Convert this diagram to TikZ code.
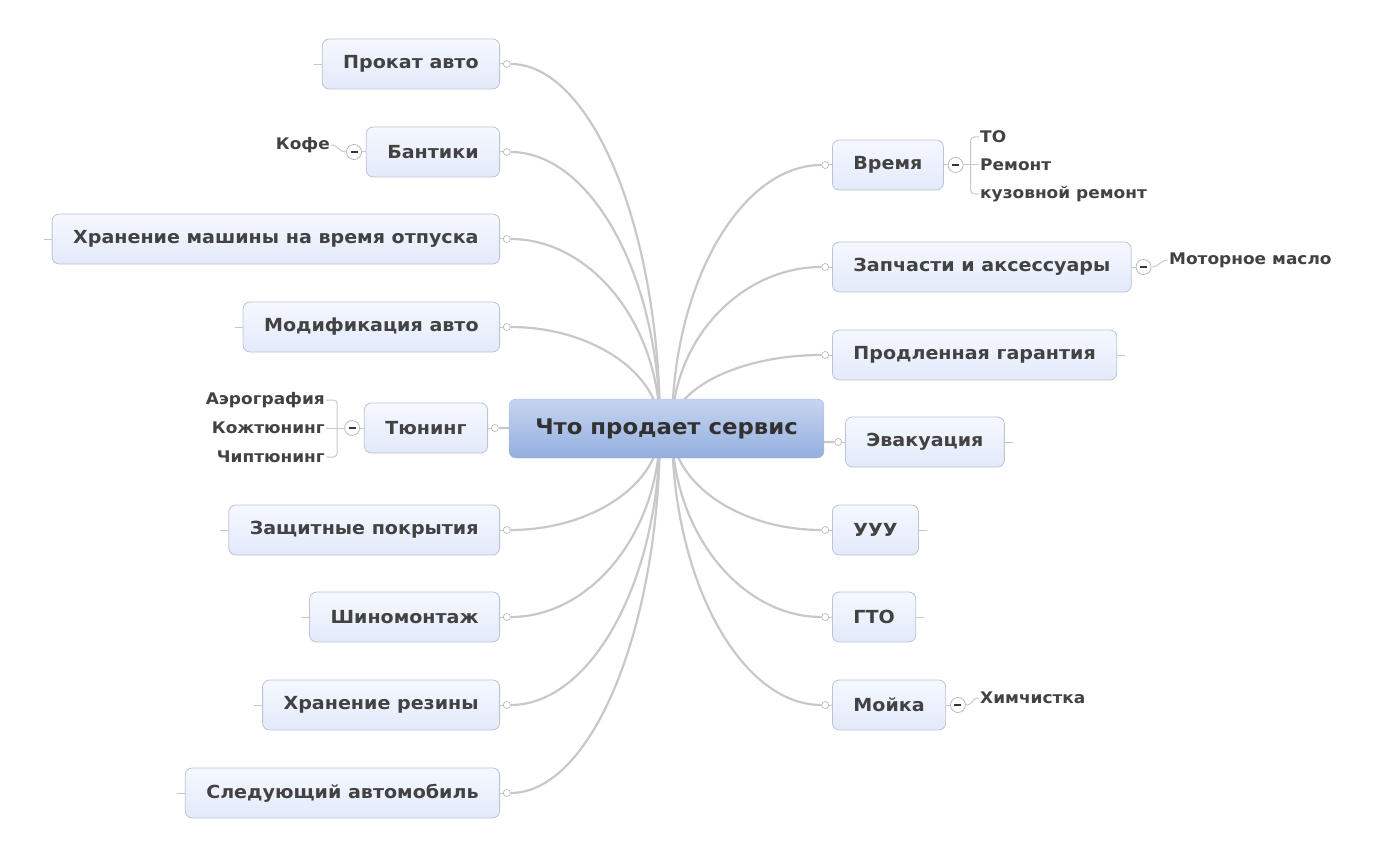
\documentclass[tikz,border=0pt]{standalone}
\usepackage{fontspec}
\setmainfont{DejaVu Sans}[FakeStretch=1.06]
\usepackage{tikz}
\usetikzlibrary{positioning, backgrounds, calc}
\definecolor{branchgray}{HTML}{C8C8C8}
\definecolor{boxline}{HTML}{BCC4D2}
\definecolor{boxtop}{HTML}{F5F8FE}
\definecolor{boxbottom}{HTML}{E2EAFA}
\definecolor{roottop}{HTML}{C6D5EF}
\definecolor{rootbottom}{HTML}{93AFDF}
\definecolor{rootline}{HTML}{A8B6CE}
\definecolor{textgray}{HTML}{424242}
\newcommand{\topicfont}{\bfseries\fontsize{18}{21}\selectfont}
\newcommand{\leaffont}{\bfseries\fontsize{16}{19}\selectfont}
\newcommand{\rootfont}{\bfseries\fontsize{21.5}{25}\selectfont}
\tikzset{
	rootbox/.style={rectangle, rounded corners=7pt, draw=rootline,
		top color=roottop, bottom color=rootbottom, minimum width=315pt,
		minimum height=59pt, font=\rootfont, text=textgray!75!black},
	topic/.style={rectangle, rounded corners=7pt, draw=boxline,
		top color=boxtop, bottom color=boxbottom, minimum height=50pt,
		inner xsep=21pt, font=\topicfont, text=textgray, line width=0.8pt},
	leaf/.style={inner sep=1pt, font=\leaffont, text=textgray},
	conn/.style={circle, draw=gray!60, fill=white, inner sep=0pt,
		minimum size=7pt, line width=0.6pt},
	fold/.style={circle, draw=gray!60, fill=white, inner sep=0pt,
		minimum size=15pt, line width=0.7pt,
		path picture={\draw[line width=1.4pt, textgray!80!black]
			([xshift=-3.5pt]path picture bounding box.center) --
			([xshift=3.5pt]path picture bounding box.center);}},
	branch/.style={draw=branchgray, line width=2.2pt},
	twig/.style={draw=branchgray, line width=1pt},
	stub/.style={draw=gray!45, line width=0.6pt}
}
\begin{document}
\begin{tikzpicture}[x=1pt, y=-1pt]
	\useasboundingbox (0,0) rectangle (1399,850);
	
	%% ---- Central topic ----
	\node[rootbox] (root) at (666.5,428.5) {Что продает сервис};
	\coordinate (lhub) at (660,428.5);
	\coordinate (rhub) at (672,428.5);
	
	%% ---- Left topics ----
	\node[topic, anchor=east] (l1) at (500,64)  {Прокат авто};
	\node[topic, anchor=east] (l2) at (500,152) {Бантики};
	\node[topic, anchor=east] (l3) at (500,239) {Хранение машины на время отпуска};
	\node[topic, anchor=east] (l4) at (500,327) {Модификация авто};
	\node[topic, anchor=east] (l5) at (488,428) {Тюнинг};
	\node[topic, anchor=east] (l6) at (500,530) {Защитные покрытия};
	\node[topic, anchor=east] (l7) at (500,617) {Шиномонтаж};
	\node[topic, anchor=east] (l8) at (500,705) {Хранение резины};
	\node[topic, anchor=east] (l9) at (500,793) {Следующий автомобиль};
	
	%% ---- Right topics ----
	\node[topic, anchor=west] (r1) at (832,165) {Время};
	\node[topic, anchor=west] (r2) at (832,267) {Запчасти и аксессуары};
	\node[topic, anchor=west] (r3) at (832,355) {Продленная гарантия};
	\node[topic, anchor=west] (r4) at (845,442) {Эвакуация};
	\node[topic, anchor=west] (r5) at (832,530) {УУУ};
	\node[topic, anchor=west] (r6) at (832,617) {ГТО};
	\node[topic, anchor=west] (r7) at (832,705) {Мойка};
	
	%% ---- Connection points ----
	\foreach \i in {1,...,9}{
		\node[conn, right=3pt of l\i] (lc\i) {};
		\draw[twig] (lc\i) -- (l\i);
	}
	\foreach \i in {1,...,7}{
		\node[conn, left=3pt of r\i] (rc\i) {};
		\draw[twig] (rc\i) -- (r\i);
	}
	
	%% ---- Branches from the centre ----
	\begin{scope}[on background layer]
		\foreach \i in {1,...,9}{
			\draw[branch] (lhub) .. controls ($(lhub)!0.55!(lhub |- lc\i)$)
			and ($(lc\i)!0.55!(lhub |- lc\i)$) .. (lc\i);
		}
		\foreach \i in {1,...,7}{
			\draw[branch] (rhub) .. controls ($(rhub)!0.55!(rhub |- rc\i)$)
			and ($(rc\i)!0.55!(rhub |- rc\i)$) .. (rc\i);
		}
	\end{scope}
	
	%% ---- Stubs of topics without children ----
	\foreach \t in {l1,l3,l4,l6,l7,l8,l9}{
		\draw[stub] (\t.west) -- ++(-8,0);
	}
	\foreach \t in {r3,r4,r5,r6}{
		\draw[stub] (\t.east) -- ++(8,0);
	}
	
	%% ---- Subtopics: Бантики ----
	\node[fold, left=4pt of l2] (l2f) {};
	\node[leaf, anchor=east] (l2a) at (331,145) {Кофе};
	\draw[twig] (l2) -- (l2f);
	\draw[twig] (l2f.west) .. controls +(-8,0) and +(8,0) .. (l2a.east);
	
	%% ---- Subtopics: Тюнинг ----
	\node[fold, left=4pt of l5] (l5f) {};
	\node[leaf, anchor=east] (l5a) at (326,400) {Аэрография};
	\node[leaf, anchor=east] (l5b) at (326,428) {Кожтюнинг};
	\node[leaf, anchor=east] (l5c) at (326,457) {Чиптюнинг};
	\coordinate (l5j) at ([xshift=-7pt]l5f.west);
	\draw[twig] (l5) -- (l5f);
	\draw[twig, rounded corners=4pt] (l5a.east) -| (l5j) |- (l5c.east);
	\draw[twig] (l5f) -- (l5b.east);
	
	%% ---- Subtopics: Время ----
	\node[fold, right=4pt of r1] (r1f) {};
	\node[leaf, anchor=west] (r1a) at (979,137) {ТО};
	\node[leaf, anchor=west] (r1b) at (979,165) {Ремонт};
	\node[leaf, anchor=west] (r1c) at (979,194) {кузовной ремонт};
	\coordinate (r1j) at ([xshift=7pt]r1f.east);
	\draw[twig] (r1) -- (r1f);
	\draw[twig, rounded corners=4pt] (r1a.west) -| (r1j) |- (r1c.west);
	\draw[twig] (r1f) -- (r1b.west);
	
	%% ---- Subtopics: Запчасти и аксессуары ----
	\node[fold, right=4pt of r2] (r2f) {};
	\node[leaf, anchor=west] (r2a) at (1168,260) {Моторное масло};
	\draw[twig] (r2) -- (r2f);
	\draw[twig] (r2f.east) .. controls +(8,0) and +(-8,0) .. (r2a.west);
	
	%% ---- Subtopics: Мойка ----
	\node[fold, right=4pt of r7] (r7f) {};
	\node[leaf, anchor=west] (r7a) at (979,698) {Химчистка};
	\draw[twig] (r7) -- (r7f);
	\draw[twig] (r7f.east) .. controls +(8,0) and +(-8,0) .. (r7a.west);
	
\end{tikzpicture}
\end{document}
